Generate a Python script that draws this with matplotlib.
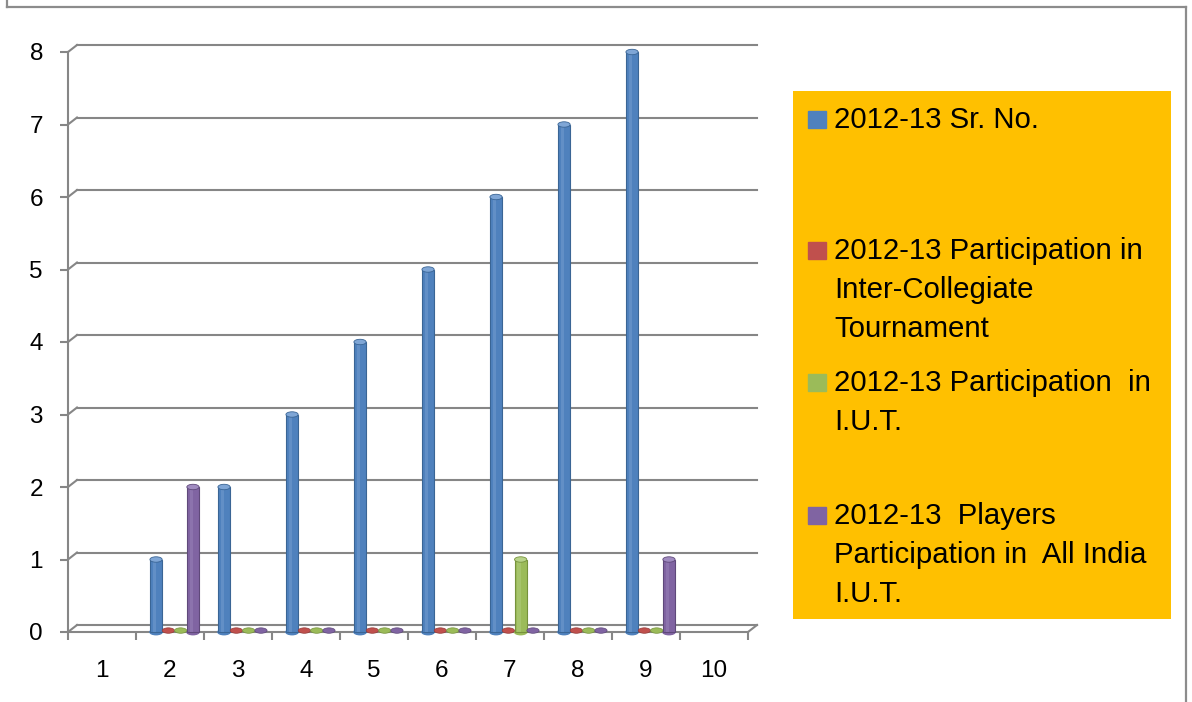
import numpy as np
import matplotlib.pyplot as plt
from matplotlib.patches import Ellipse, Rectangle
from matplotlib.lines import Line2D

plt.rcParams['font.family'] = ['Liberation Sans', 'DejaVu Sans']

categories = [1, 2, 3, 4, 5, 6, 7, 8, 9, 10]
nan = np.nan
sr_no = [nan, 1, 2, 3, 4, 5, 6, 7, 8, nan]
inter_collegiate = [nan, 0, 0, 0, 0, 0, 0, 0, 0, nan]
iut = [nan, 0, 0, 0, 0, 0, 1, 0, 0, nan]
all_india_iut = [nan, 2, 0, 0, 0, 0, 0, 0, 1, nan]

labels = [
    "2012-13 Sr. No.",
    "2012-13 Participation in\nInter-Collegiate\nTournament",
    "2012-13 Participation  in\nI.U.T.",
    "2012-13  Players\nParticipation in  All India\nI.U.T.",
]
colors = ["#4F81BD", "#C0504D", "#9BBB59", "#8064A2"]
dark = ["#3A6595", "#953B39", "#76923C", "#5F497A"]
light = ["#7FA6D6", "#D98583", "#B8D389", "#A08BC0"]
series = [sr_no, inter_collegiate, iut, all_india_iut]

W, H = 1192, 702
grid_c = "#868686"


def main():
    fig = plt.figure(figsize=(W / 100, H / 100), dpi=100)

    # outer chart border (bottom edge is cut off in the original)
    for xs, ys in [([7, 7], [-5, 7]), ([7, 1186], [7, 7]), ([1186, 1186], [7, 707])]:
        fig.add_artist(Line2D([x / W for x in xs], [1 - y / H for y in ys],
                              color="#8C8C8C", lw=1.6))

    ax = fig.add_axes([68 / W, 1 - 632 / H, 680 / W, 580 / H])
    ax.set_xlim(0.5, 10.5)
    ax.set_ylim(0, 8)
    for s in ax.spines.values():
        s.set_visible(False)

    # 3d-ish back wall offset in data units (9px right, 7px up)
    dx = 9 / 68
    dy = 7 / 72.5

    for v in range(0, 9):
        ax.plot([0.5 + dx, 10.5 + dx], [v + dy, v + dy], color=grid_c, lw=1.5,
                clip_on=False, zorder=1)
        ax.plot([0.5, 0.5 + dx], [v, v + dy], color=grid_c, lw=1.5, clip_on=False, zorder=1)
    ax.plot([10.5, 10.5 + dx], [0, dy], color=grid_c, lw=1.5, clip_on=False, zorder=1)
    ax.plot([0.5, 10.5], [0, 0], color=grid_c, lw=1.5, clip_on=False, zorder=2)
    ax.plot([0.5, 0.5], [0, 8], color=grid_c, lw=1.5, clip_on=False, zorder=2)

    ax.set_yticks(range(0, 9))
    ax.set_xticks(np.arange(0.5, 11, 1))
    ax.set_xticklabels([])
    ax.set_xticks(categories, minor=True)
    ax.set_xticklabels([str(c) for c in categories], minor=True)
    ax.tick_params(axis="x", which="major", length=6, width=1.5, color=grid_c)
    ax.tick_params(axis="x", which="minor", length=0, pad=20, labelsize=17.5)
    ax.tick_params(axis="y", length=6, width=1.5, color=grid_c, pad=12, labelsize=17.5)

    bw = 0.18
    step = 0.181
    shift = dx / 2
    eh = 0.075
    for i, vals in enumerate(series):
        off = (i - 1.5) * step + shift
        for c, v in zip(categories, vals):
            if np.isnan(v):
                continue
            x = c + off
            if v > 0:
                ax.bar(x, v, width=bw, color=colors[i], edgecolor=dark[i], lw=0.8,
                       zorder=3, clip_on=False)
                ax.bar(x - bw * 0.12, v, width=bw * 0.3, color=light[i], alpha=0.4,
                       lw=0, zorder=3.1, clip_on=False)
                ax.add_patch(Ellipse((x, 0), bw, eh, color=colors[i], zorder=2.9,
                                     clip_on=False))
                ax.add_patch(Ellipse((x, v), bw, eh, facecolor=light[i],
                                     edgecolor=dark[i], lw=0.6, zorder=3.2, clip_on=False))
            else:
                ax.add_patch(Ellipse((x, 0.02), bw, eh, facecolor=colors[i],
                                     edgecolor=dark[i], lw=0.5, zorder=3, clip_on=False))

    # legend box drawn by hand, entries top aligned like the original
    lg = fig.add_axes([793 / W, 1 - 619 / H, 378 / W, 528 / H])
    lg.set_facecolor("#FFC000")
    lg.set_xlim(0, 378)
    lg.set_ylim(528, 0)
    lg.set_xticks([])
    lg.set_yticks([])
    for s in lg.spines.values():
        s.set_visible(False)
    baselines = [128, 259, 391, 524]
    for i, lab in enumerate(labels):
        b = baselines[i] - 91
        lg.add_patch(Rectangle((15, b - 17), 18, 17, color=colors[i]))
        for j, line in enumerate(lab.split("\n")):
            lg.text(41, b + j * 39, line, fontsize=21.2, va="baseline", ha="left")

    fig.savefig("out.png", dpi=100)


if __name__ == "__main__":
    main()
